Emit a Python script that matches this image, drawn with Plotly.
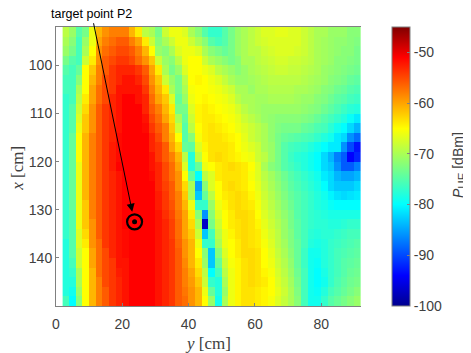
import plotly.graph_objects as go

y_cm = list(range(3, 92, 2))
x_cm = list(range(93, 150, 2))

# received power in dBm, one row per x value
p_ue = [
    [-69,-71,-75,-73,-66,-61,-59,-58,-58,-58,-61,-64,-69,-70,-73,-68,-66,-66,-67,-70,-72,-75,-77,-77,-75,-73,-71,-70,-69,-68,-67,-67,-66.5,-66.5,-67,-67,-68,-69,-70,-70,-71,-71,-71,-72,-72],
    [-70,-72,-76,-71,-66,-60,-58,-57,-56,-56,-58,-60,-64,-68,-72,-70,-68,-66,-66,-68,-70,-72,-75,-76,-75,-73,-71,-70,-69,-68,-67.5,-67,-67,-67,-67,-67,-68,-69,-70,-70.5,-71,-71.5,-71.5,-72,-72.5],
    [-71,-73,-76,-70,-65,-59,-57,-56,-55,-55,-56,-58,-61,-65,-71,-72,-70,-67,-66,-66,-67,-70,-72,-73,-74,-73,-71,-70,-69,-69,-68,-67.5,-67,-67,-67,-67.5,-68,-69,-70,-70.5,-71,-71.5,-72,-72,-73],
    [-73,-75,-76,-68,-64,-59,-56,-55,-54,-54,-55,-57,-59,-62,-68,-71,-72,-69,-66,-65,-65,-68,-70,-71,-72,-73,-72,-70,-70,-69,-68.5,-68,-67.5,-67.5,-68,-68,-68.5,-69,-70,-70.5,-71,-72,-72,-72.5,-73],
    [-75,-76,-74,-65,-62,-58,-56,-54,-53,-53,-53,-54,-56,-60,-64,-70,-73,-71,-67,-65,-65,-66,-67,-69,-70,-71,-72,-71,-70,-69.5,-69,-68.5,-68,-68,-68.5,-68.5,-69,-69.5,-70,-71,-71.5,-72,-72.5,-73,-73.5],
    [-76,-76,-72,-65,-61,-58,-55,-54,-53,-52,-52,-53,-55,-59,-62,-68,-71,-73,-69,-65,-64.5,-65,-66,-67,-68.5,-70,-71,-71,-70.5,-70,-69.5,-69,-69,-69,-69,-69,-69.5,-70,-70.5,-71,-72,-72.5,-73,-74,-74.5],
    [-76,-76,-70,-65,-60,-57,-55,-54,-52,-52,-52,-52,-54,-58,-61,-64,-70,-73,-70,-65.5,-65,-65,-65.5,-66,-67,-68,-70,-70,-71,-70,-70,-69.5,-69.5,-69.5,-69.5,-70,-70,-70.5,-71,-72,-72.5,-73.5,-74,-75,-75.5],
    [-77,-76,-69,-64,-60,-57,-55,-53,-52,-51,-51,-52,-53,-57,-60,-62,-67,-74,-71,-66,-65,-64.5,-65,-65.5,-66,-67,-69,-70,-70,-70.5,-70.5,-70,-70,-70,-70,-70.5,-71,-71,-72,-72.5,-73.5,-74.5,-75,-76,-76.5],
    [-77,-75,-68,-63,-59,-56,-54,-53,-52,-51,-51,-51,-53,-56,-58,-61,-64,-73,-73,-67,-64.5,-64,-64.5,-65,-65.5,-66,-67.5,-69,-70,-70.5,-71,-71,-71,-71,-71,-71,-71.5,-72,-72.5,-73.5,-74.5,-75.5,-76.5,-77.5,-78],
    [-77,-75,-67,-62,-59,-56,-54,-53,-52,-51,-51,-51,-52,-55,-57,-60,-63,-70,-74,-68,-64.5,-64,-64,-64.5,-65,-65.5,-66.5,-68,-69,-70,-71,-71.5,-72,-72,-72,-72,-72.5,-73,-74,-75,-76,-77,-78,-79.5,-81],
    [-77,-75,-66,-62,-59,-56,-54,-53,-52,-51,-51,-51,-51.5,-54,-56,-58,-62,-68,-75,-69,-65,-64,-63.5,-64,-64.5,-65,-66,-67,-68,-69,-70,-71.5,-72.5,-73,-73,-73,-74,-74.5,-75.5,-76,-77.5,-79,-80,-82,-84],
    [-77,-74,-65,-61,-58,-56,-54,-53,-51.5,-51,-51,-51,-51,-53,-55,-58,-61,-65,-75,-72,-65.5,-64,-63.5,-63.5,-64,-64.5,-65,-66.5,-68,-69,-70,-71.5,-73,-74,-74.5,-75,-75.5,-76,-77,-78,-79,-81,-82,-86,-88],
    [-77,-74,-65,-61,-58,-56,-54,-52.5,-51.5,-51,-51,-51,-51,-53,-54,-56,-60,-63,-74,-74.5,-67,-64.5,-63.5,-63.5,-63.5,-64,-65,-66,-67,-68,-70,-71,-73,-75,-76,-76.5,-77,-78,-79,-80,-81,-81,-86,-90,-93],
    [-77,-74,-65,-61,-58,-56,-54,-52.5,-51.5,-51,-51,-51,-51,-52,-54,-56,-58,-61,-69,-78,-69,-65,-63.5,-63,-63.5,-64,-64.5,-65.5,-66,-68,-69,-71,-73,-75,-76.5,-77.5,-78,-79,-80,-82,-84,-87,-89,-94,-92],
    [-77,-74,-66,-61,-58,-56,-54,-52.5,-51,-51,-51,-51,-51,-52,-53,-55,-57,-60,-67,-78,-74,-66,-65,-64,-63.5,-63,-63.5,-64,-65,-67,-70,-72,-73,-75,-76,-77,-78,-79,-80,-82,-83,-86,-89,-89,-87],
    [-77,-74,-66,-61,-58,-56,-54,-53,-52,-51,-51,-51,-51,-51.5,-53,-55,-57,-59,-65,-74,-80,-69,-67,-64,-63.5,-63.5,-63.5,-64,-65.5,-67,-69,-70.5,-72,-73.5,-75,-76,-77,-78,-79,-81,-82,-84,-85,-85,-84],
    [-77,-74,-66,-61,-58,-56,-54,-53,-52,-51,-51,-51,-51,-51,-53,-54.5,-56,-59,-63,-70,-85,-72,-67,-65,-63.5,-63,-63.5,-64,-65,-66.5,-68.5,-70,-71.5,-73,-74.5,-75.5,-76.5,-77.5,-78.5,-80,-82,-83,-83,-83,-82],
    [-77,-74,-66,-61,-58,-56,-54,-53,-52,-51,-51,-51,-51,-51,-52.5,-54,-56,-58,-62,-70,-83,-74,-69,-65,-64,-63.5,-63,-63.5,-64.5,-66,-68,-69.5,-71,-72.5,-74,-75,-76,-77,-78,-79,-80.5,-81.5,-82,-81.5,-81],
    [-77,-74,-66,-62,-58,-56,-54,-53,-52,-51,-51,-51,-51,-51,-52.5,-54,-55.5,-58,-61,-66,-77,-77,-71,-66,-64.5,-63.5,-63,-63.5,-64,-65.5,-67.5,-69,-70.5,-72,-73.5,-75,-76,-77,-78,-78.5,-79.5,-80,-80,-80,-80],
    [-77,-75,-66,-62,-58,-56,-54,-53,-52,-51,-51,-51,-51,-51,-52,-53.5,-55,-57.5,-60,-64,-72,-86,-72,-67,-65,-64,-63,-63,-63.5,-65,-67,-68.5,-70,-71.5,-73,-75,-76,-77,-77.5,-78,-78.5,-78.5,-78.5,-78.5,-78.5],
    [-77,-75,-66,-62,-59,-56,-54,-53,-52,-51,-51,-51,-51,-51,-52,-53,-54.5,-57,-60,-63,-70,-97,-73,-68,-65,-64,-63.5,-63,-63.5,-64.5,-66.5,-68,-69.5,-71,-73,-74.5,-76,-77,-77.5,-77.5,-78,-78,-77.5,-77,-77],
    [-77,-75,-67,-63,-59,-56,-54,-53,-52,-51.5,-51,-51,-51,-51,-52,-53,-54.5,-57,-60,-62,-68,-83,-76,-69,-66,-64.5,-63.5,-63,-63.5,-64,-66,-67.5,-69,-71,-72.5,-74.5,-76,-77.5,-78,-77.5,-77.5,-77,-76.5,-76,-76],
    [-78,-75,-67,-64,-59,-57,-54,-53,-52,-51.5,-51,-51,-51,-51,-52,-53,-54,-56.5,-59,-61,-66,-77,-77,-70,-66,-65,-64,-63,-63.5,-64,-65.5,-67,-69,-70.5,-72.5,-74,-76,-78,-78.5,-78,-77,-76.5,-76,-75.5,-75],
    [-78,-75,-68,-65,-60,-57,-55,-53,-52,-51.5,-51,-51,-51,-51,-52,-53,-54,-56,-59,-61,-65,-72,-83,-72,-67,-65,-64,-63,-63,-63.5,-65,-66.5,-68.5,-70,-72,-74,-76.5,-79,-79,-78,-77,-76,-75.5,-75,-74.5],
    [-78,-76,-68,-65,-60,-57,-55,-54,-52,-52,-51,-51,-51,-51,-52,-53,-54,-56,-58.5,-61,-64,-71,-83,-74,-68,-65.5,-64.5,-63.5,-63,-63.5,-65,-66,-68,-69.5,-71.5,-74,-76.5,-79,-79.5,-78,-77,-76,-75,-74.5,-74],
    [-78,-77,-70,-65,-61,-57,-55,-54,-52.5,-52,-51,-51,-51,-51,-52,-53,-54,-56,-58,-60,-63,-69,-80,-76,-69,-66,-64.5,-63.5,-63,-63.5,-64.5,-65.5,-67.5,-69,-71,-73.5,-76,-79,-80,-78.5,-77,-76,-75,-74,-73.5],
    [-78,-78,-70,-65,-61,-58,-55,-54,-53,-52,-51,-51,-51,-51,-52,-53,-54,-56,-58,-59.5,-62,-68,-77,-78,-70,-66,-64.5,-63.5,-63,-63.5,-64,-65,-67,-68.5,-70.5,-73,-76,-79,-80,-79,-77,-75.5,-74.5,-73.5,-73],
    [-78,-79,-71,-65,-61,-58,-56,-54,-53,-52,-51,-51,-51,-51,-52,-53,-54,-56,-57.5,-59,-61,-66,-74,-78,-71,-66,-64.5,-63.5,-63.5,-64,-64.5,-65,-66.5,-68,-70,-72.5,-76,-79,-79.5,-78,-76,-75,-74,-73,-72],
    [-76,-80,-72,-65,-61,-58,-56,-54,-53,-52,-51,-51,-51,-51,-52,-53,-54,-56,-57,-59,-61,-65,-71,-79,-70,-66,-64.5,-63.5,-63.5,-64,-64.5,-65.5,-67,-68.5,-70,-72,-76,-79,-79,-77,-75,-74,-73,-72,-71],
]

y_ticks = [0, 20, 40, 60, 80]
x_ticks = [100, 110, 120, 130, 140]
cbar_ticks = [-50, -60, -70, -80, -90, -100]
cbar_labels = ["-50", "-60", "-70", "-80", "-90", "-100"]

# target point P2
target_y = [23.7]
target_x = [132.5]

# matlab style jet
jet = [
    [0, "rgb(0,0,143)"],
    [0.109, "rgb(0,0,255)"],
    [0.364, "rgb(0,255,255)"],
    [0.636, "rgb(255,255,0)"],
    [0.891, "rgb(255,0,0)"],
    [1, "rgb(128,0,0)"],
]

grey = "#808080"
text_col = "#404040"
sans = "Liberation Sans"
serif = "Liberation Serif"

fig = go.Figure()
fig.add_trace(go.Heatmap(
    x=y_cm, y=x_cm, z=p_ue,
    colorscale=jet, zmin=-100, zmax=-45,
    colorbar=dict(
        x=1.1016, xanchor="left", xpad=0, y=0.5, ypad=0, len=1,
        thickness=18, outlinecolor=grey, outlinewidth=1,
        tickvals=cbar_ticks, ticktext=cbar_labels,
        ticks="inside", ticklen=3, tickcolor=grey,
        tickfont=dict(family=sans, size=14, color=text_col),
    ),
    showscale=True,
))
fig.add_trace(go.Scatter(
    x=target_y, y=target_x, mode="markers", showlegend=False,
    marker=dict(symbol="circle-open", size=15, color="black", line=dict(width=2.2, color="black")),
))
fig.add_trace(go.Scatter(
    x=target_y, y=target_x, mode="markers", showlegend=False,
    marker=dict(size=5, color="black"),
))

fig.add_annotation(
    x=23, y=130.4, xref="x", yref="y", ax=-39, ay=-190, axref="pixel", ayref="pixel",
    text="", showarrow=True, arrowhead=2, arrowsize=1.6, arrowwidth=1, arrowcolor="black",
)
fig.add_annotation(
    x=10.7, y=1.047, xref="x", yref="paper", xanchor="center", yanchor="middle", showarrow=False,
    text="target point P2", font=dict(family=sans, size=12.5, color="black"),
)

# axis titles placed by hand so they sit where the original has them
fig.add_annotation(
    x=0.498, y=-0.133, xref="paper", yref="paper", xanchor="center", yanchor="middle", showarrow=False,
    text="<i>y</i> [cm]", font=dict(family=serif, size=17, color=text_col),
)
fig.add_annotation(
    x=-0.125, y=0.495, xref="paper", yref="paper", xanchor="center", yanchor="middle", showarrow=False,
    textangle=-90, text="<i>x</i> [cm]", font=dict(family=serif, size=17, color=text_col),
)
fig.add_annotation(
    x=1.321, y=0.505, xref="paper", yref="paper", xanchor="center", yanchor="middle", showarrow=False,
    textangle=-90, text='<i>P</i><sub><span style="font-size:11.5px">UE</span></sub> [dBm]',
    font=dict(family=sans, size=14, color=text_col),
)

# the page body adds 8 px round the figure
fig.update_layout(
    width=463, height=345,
    margin=dict(l=48, r=110, t=19, b=47),
    paper_bgcolor="white", plot_bgcolor="white",
    showlegend=False,
    xaxis=dict(
        range=[0, 92], tickvals=y_ticks, ticks="inside", ticklen=3, tickcolor=grey,
        ticklabelstandoff=5,
        showgrid=False, zeroline=False, showline=True, linecolor=grey, linewidth=1, mirror=True,
        tickfont=dict(family=sans, size=14, color=text_col),
    ),
    yaxis=dict(
        range=[150, 92], tickvals=x_ticks, ticks="inside", ticklen=3, tickcolor=grey,
        showgrid=False, zeroline=False, showline=True, linecolor=grey, linewidth=1,
        tickfont=dict(family=sans, size=14, color=text_col),
    ),
)

fig.write_html("out.html")
